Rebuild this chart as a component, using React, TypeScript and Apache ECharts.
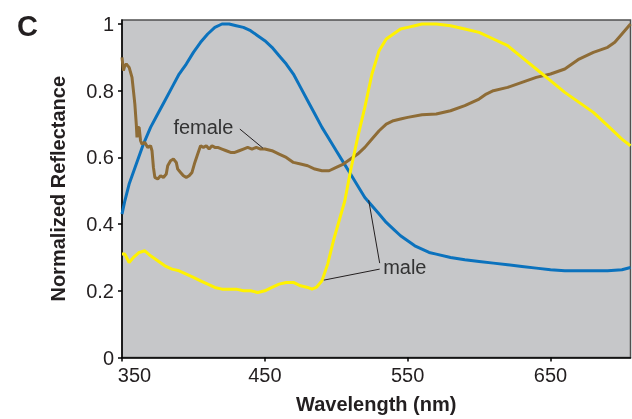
import React, { useEffect, useRef } from "react";
import * as echarts from "echarts";

const xTicks = [350, 450, 550, 650];
const yTicks = [0, 0.2, 0.4, 0.6, 0.8, 1];

const maleBlueWl = [350, 352, 355, 360, 365, 370, 375, 380, 385, 390, 395, 400, 405, 410, 415, 420, 425, 430, 435, 440, 445, 450, 455, 460, 465, 470, 475, 480, 485, 490, 495, 500, 505, 510, 515, 520, 525, 530, 535, 540, 545, 550, 555, 560, 565, 570, 580, 590, 600, 610, 620, 630, 640, 650, 660, 670, 680, 690, 700, 706];
const maleBlueRefl = [0.43, 0.47, 0.52, 0.58, 0.64, 0.69, 0.73, 0.77, 0.81, 0.85, 0.88, 0.915, 0.945, 0.97, 0.99, 1.0, 1.0, 0.995, 0.99, 0.98, 0.965, 0.95, 0.93, 0.905, 0.88, 0.85, 0.81, 0.77, 0.73, 0.69, 0.655, 0.62, 0.585, 0.55, 0.515, 0.48, 0.455, 0.43, 0.405, 0.385, 0.365, 0.35, 0.335, 0.325, 0.315, 0.31, 0.3, 0.293, 0.288, 0.283, 0.278, 0.273, 0.268, 0.263, 0.26, 0.26, 0.26, 0.26, 0.263, 0.27];

const maleYellowWl = [350, 352, 355, 358, 362, 366, 370, 375, 380, 385, 390, 395, 400, 405, 410, 415, 420, 425, 430, 435, 440, 445, 450, 455, 460, 465, 470, 475, 480, 483, 486, 490, 494, 498, 502, 506, 510, 515, 520, 525, 530, 535, 540, 545, 550, 555, 560, 570, 580, 590, 600, 610, 620, 630, 640, 650, 660, 670, 680, 690, 700, 706];
const maleYellowRefl = [0.31, 0.31, 0.285, 0.3, 0.315, 0.32, 0.305, 0.29, 0.275, 0.265, 0.26, 0.25, 0.24, 0.23, 0.22, 0.21, 0.205, 0.205, 0.205, 0.2, 0.2, 0.195, 0.2, 0.21, 0.22, 0.225, 0.225, 0.215, 0.21, 0.205, 0.21, 0.23, 0.28, 0.35, 0.41, 0.47, 0.56, 0.66, 0.75, 0.85, 0.92, 0.955, 0.97, 0.985, 0.99, 0.995, 1.0, 1.0, 0.995, 0.985, 0.975, 0.955, 0.935, 0.9, 0.865, 0.83, 0.795, 0.765, 0.735, 0.695, 0.655, 0.635];

const femaleWl = [350, 351, 352, 353, 354, 355, 356, 357, 358, 359, 360, 360.5, 361, 362, 363, 364, 366, 368, 370, 371, 372, 373, 375, 377, 379, 381, 382, 384, 386, 388, 389, 391, 393, 395, 397, 399, 401, 403, 405, 407, 409, 411, 413, 415, 417, 420, 423, 426, 429, 432, 435, 438, 441, 444, 447, 450, 455, 460, 465, 470, 475, 480, 485, 490, 495, 500, 505, 510, 515, 520, 525, 530, 535, 540, 545, 550, 560, 570, 580, 590, 600, 605, 610, 620, 630, 640, 650, 660, 665, 670, 680, 690, 695, 700, 706];
const femaleRefl = [0.9, 0.86, 0.875, 0.88, 0.875, 0.87, 0.855, 0.84, 0.8, 0.76, 0.7, 0.66, 0.69, 0.69, 0.65, 0.64, 0.645, 0.63, 0.635, 0.62, 0.57, 0.54, 0.535, 0.545, 0.54, 0.55, 0.575, 0.59, 0.595, 0.585, 0.565, 0.555, 0.545, 0.54, 0.545, 0.555, 0.585, 0.61, 0.635, 0.63, 0.635, 0.625, 0.635, 0.63, 0.63, 0.625, 0.62, 0.615, 0.615, 0.62, 0.625, 0.63, 0.625, 0.63, 0.625, 0.625, 0.62, 0.61, 0.6, 0.585, 0.58, 0.575, 0.565, 0.56, 0.56, 0.57, 0.58, 0.595, 0.61, 0.63, 0.655, 0.68, 0.7, 0.71, 0.715, 0.72, 0.728, 0.73, 0.74, 0.755, 0.775, 0.79, 0.8, 0.81, 0.825, 0.84, 0.85, 0.865, 0.88, 0.895, 0.915, 0.93, 0.945, 0.97, 1.0];

const labelFemale = { text: "female", at: [407, 0.69], line: [[432.5, 0.685], [448.6, 0.628]] };
const labelMale = { text: "male", at: [548, 0.271], lines: [[[530.4, 0.283], [522.7, 0.472]], [[530.4, 0.265], [491.3, 0.232]]] };

const FONT = "'Liberation Sans', Arial, Helvetica, sans-serif";

function zip(xs: number[], ys: number[]) {
  return xs.map((x, i) => [x, ys[i]]);
}

export default function App() {
  const ref = useRef<HTMLDivElement>(null);
  useEffect(() => {
    if (!ref.current) return;
    const chart = echarts.init(ref.current, undefined, { renderer: "svg" });
    const segs = [labelFemale.line, ...labelMale.lines].map((s) => [
      { coord: s[0] },
      { coord: s[1] },
    ]);
    chart.setOption({
      animation: false,
      grid: {
        left: 122,
        right: 1.5,
        top: 20,
        bottom: 61.5,
        show: true,
        backgroundColor: "#c6c7c9",
        borderColor: "#505050",
        borderWidth: 1.5,
      },
      xAxis: {
        type: "value",
        min: 350,
        max: 706,
        name: "Wavelength (nm)",
        nameLocation: "middle",
        nameGap: 36,
        nameTextStyle: { fontFamily: FONT, fontSize: 20, fontWeight: "bold", color: "#231f20" },
        axisLine: { show: true, lineStyle: { color: "#000", width: 1.5 } },
        axisTick: { show: true, length: 4, customValues: xTicks, lineStyle: { color: "#000", width: 1.5 } },
        axisLabel: {
          customValues: xTicks,
          margin: 7,
          fontFamily: FONT,
          fontSize: 20,
          color: "#231f20",
          formatter: (v: number) => (v === xTicks[0] ? `{first|${v}}` : String(v)),
          rich: {
            first: { fontFamily: FONT, fontSize: 20, color: "#231f20", padding: [0, 0, 0, 25] },
          },
        },
        splitLine: { show: false },
      },
      yAxis: {
        type: "value",
        min: 0,
        max: 1.012,
        name: "Normalized Reflectance",
        nameLocation: "middle",
        nameGap: 54,
        nameTextStyle: { fontFamily: FONT, fontSize: 20, fontWeight: "bold", color: "#231f20" },
        axisLine: { show: true, lineStyle: { color: "#000", width: 1.5 } },
        axisTick: { show: true, length: 4, customValues: yTicks, lineStyle: { color: "#000", width: 1.5 } },
        axisLabel: {
          customValues: yTicks,
          margin: 8,
          fontFamily: FONT,
          fontSize: 20,
          color: "#231f20",
          formatter: (v: number) => String(Math.round(v * 10) / 10),
        },
        splitLine: { show: false },
      },
      series: [
        {
          type: "line",
          data: zip(maleBlueWl, maleBlueRefl),
          showSymbol: false,
          lineStyle: { color: "#0b72bd", width: 3 },
          z: 2,
        },
        {
          type: "line",
          data: zip(femaleWl, femaleRefl),
          showSymbol: false,
          lineStyle: { color: "#8e6c36", width: 3 },
          z: 3,
        },
        {
          type: "line",
          data: zip(maleYellowWl, maleYellowRefl),
          showSymbol: false,
          lineStyle: { color: "#fff200", width: 3 },
          z: 4,
          markLine: {
            silent: true,
            symbol: ["none", "none"],
            label: { show: false },
            lineStyle: { color: "#231f20", width: 1, type: "solid" },
            data: segs,
          },
        },
      ],
    });
    const pf = chart.convertToPixel({ gridIndex: 0 }, labelFemale.at);
    const pm = chart.convertToPixel({ gridIndex: 0 }, labelMale.at);
    chart.setOption({
      graphic: [
        {
          type: "text",
          left: 17,
          top: 11,
          style: { text: "C", font: `bold 29px ${FONT}`, fill: "#231f20" },
        },
        {
          type: "text",
          x: pf[0],
          y: pf[1],
          style: { text: labelFemale.text, font: `20px ${FONT}`, fill: "#333", align: "center", verticalAlign: "middle" },
          z: 10,
        },
        {
          type: "text",
          x: pm[0],
          y: pm[1],
          style: { text: labelMale.text, font: `20px ${FONT}`, fill: "#333", align: "center", verticalAlign: "middle" },
          z: 10,
        },
      ],
    });
    return () => chart.dispose();
  }, []);
  return <div ref={ref} style={{ width: 632, height: 419, position: "fixed", left: 0, top: 0 }} />;
}
